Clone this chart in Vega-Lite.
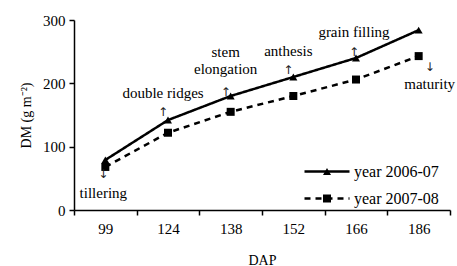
{
  "$schema": "https://vega.github.io/schema/vega-lite/v6.json",
  "width": 376,
  "height": 190,
  "autosize": {"type": "none"},
  "padding": {"left": 74, "top": 20, "right": 7, "bottom": 56},
  "background": "white",
  "config": {
    "view": {"stroke": null},
    "font": "Liberation Serif",
    "axis": {
      "domainColor": "black", "domainWidth": 1.5,
      "tickColor": "black", "tickWidth": 1.5, "tickSize": 5,
      "labelColor": "black", "labelFontSize": 15, "labelFont": "Liberation Serif",
      "titleColor": "black", "titleFontSize": 14, "titleFontWeight": "normal", "titleFont": "Liberation Serif",
      "grid": false
    },
    "text": {"font": "Liberation Serif", "fontSize": 15, "color": "black"}
  },
  "datasets": {
    "dm": [
      {"DAP": 99, "DM": 79, "year": "year 2006-07"},
      {"DAP": 124, "DM": 142, "year": "year 2006-07"},
      {"DAP": 138, "DM": 180, "year": "year 2006-07"},
      {"DAP": 152, "DM": 210, "year": "year 2006-07"},
      {"DAP": 166, "DM": 240, "year": "year 2006-07"},
      {"DAP": 186, "DM": 284, "year": "year 2006-07"},
      {"DAP": 99, "DM": 68, "year": "year 2007-08"},
      {"DAP": 124, "DM": 122, "year": "year 2007-08"},
      {"DAP": 138, "DM": 155, "year": "year 2007-08"},
      {"DAP": 152, "DM": 180, "year": "year 2007-08"},
      {"DAP": 166, "DM": 206, "year": "year 2007-08"},
      {"DAP": 186, "DM": 243, "year": "year 2007-08"}
    ],
    "notes": [
      {"DAP": 99, "DM": 27, "label": "tillering"},
      {"DAP": 124, "DM": 185, "label": "double ridges"},
      {"DAP": 138, "DM": 249, "label": "stem\nelongation"},
      {"DAP": 152, "DM": 251, "label": "anthesis"},
      {"DAP": 166, "DM": 281, "label": "grain filling"},
      {"DAP": 186, "DM": 199, "label": "maturity"}
    ],
    "arrows": [
      {"DAP": 99, "DM": 57, "label": "↓"},
      {"DAP": 124, "DM": 155, "label": "↑"},
      {"DAP": 138, "DM": 187, "label": "↑"},
      {"DAP": 152, "DM": 221, "label": "↑"},
      {"DAP": 166, "DM": 249, "label": "↑"},
      {"DAP": 186, "DM": 226, "label": "↓"}
    ]
  },
  "encoding": {
    "x": {
      "field": "DAP", "type": "ordinal", "title": "DAP",
      "scale": {"type": "band", "paddingInner": 0, "paddingOuter": 0},
      "axis": {"labelAngle": 0, "tickBand": "extent", "labelPadding": 6, "titlePadding": 17}
    },
    "y": {
      "field": "DM", "type": "quantitative", "title": "DM (g m⁻²)",
      "scale": {"domain": [0, 300], "nice": false},
      "axis": {"values": [0, 100, 200, 300], "labelPadding": 4, "titlePadding": 9}
    }
  },
  "layer": [
    {
      "data": {"name": "dm"},
      "mark": {"type": "line", "color": "black", "strokeWidth": 2.5},
      "encoding": {
        "strokeDash": {
          "field": "year", "type": "nominal",
          "scale": {"range": [[1, 0], [6, 5]]},
          "legend": {
            "title": null,
            "orient": "none",
            "legendX": 229,
            "legendY": 138,
            "symbolSize": 2025,
            "symbolStrokeWidth": 2.5,
            "labelFontSize": 16,
            "labelFont": "Liberation Serif",
            "labelColor": "black",
            "labelOffset": 3,
            "clipHeight": 27,
            "rowPadding": 0
          }
        }
      }
    },
    {
      "data": {"name": "dm"},
      "mark": {"type": "point", "filled": true, "color": "black", "opacity": 1, "size": 64},
      "encoding": {
        "shape": {
          "field": "year", "type": "nominal",
          "scale": {"domain": ["year 2006-07", "year 2007-08"], "range": ["triangle-up", "square"]},
          "legend": {
            "title": null,
            "orient": "none",
            "legendX": 248,
            "legendY": 138,
            "symbolSize": 64,
            "symbolFillColor": "black",
            "symbolStrokeColor": "black",
            "symbolOpacity": 1,
            "labelExpr": "''",
            "labelOffset": 0,
            "clipHeight": 27,
            "rowPadding": 0
          }
        }
      }
    },
    {
      "data": {"name": "notes"},
      "transform": [{"filter": "datum.DAP == 124 || datum.DAP == 138 || datum.DAP == 152"}],
      "mark": {"type": "text", "dx": -5, "lineBreak": "\n", "lineHeight": 17, "baseline": "middle"},
      "encoding": {"text": {"field": "label"}}
    },
    {
      "data": {"name": "notes"},
      "transform": [{"filter": "datum.DAP == 99 || datum.DAP == 166"}],
      "mark": {"type": "text", "dx": -2, "baseline": "middle"},
      "encoding": {"text": {"field": "label"}}
    },
    {
      "data": {"name": "notes"},
      "transform": [{"filter": "datum.DAP == 186"}],
      "mark": {"type": "text", "dx": 11, "baseline": "middle"},
      "encoding": {"text": {"field": "label"}}
    },
    {
      "data": {"name": "arrows"},
      "transform": [{"filter": "datum.DAP == 124 || datum.DAP == 138 || datum.DAP == 152"}],
      "mark": {"type": "text", "dx": -5, "baseline": "middle", "font": "DejaVu Sans", "fontSize": 12, "color": "#222"},
      "encoding": {"text": {"field": "label"}}
    },
    {
      "data": {"name": "arrows"},
      "transform": [{"filter": "datum.DAP == 99 || datum.DAP == 166"}],
      "mark": {"type": "text", "dx": -2, "baseline": "middle", "font": "DejaVu Sans", "fontSize": 12, "color": "#222"},
      "encoding": {"text": {"field": "label"}}
    },
    {
      "data": {"name": "arrows"},
      "transform": [{"filter": "datum.DAP == 186"}],
      "mark": {"type": "text", "dx": 11, "baseline": "middle", "font": "DejaVu Sans", "fontSize": 12, "color": "#222"},
      "encoding": {"text": {"field": "label"}}
    }
  ]
}
